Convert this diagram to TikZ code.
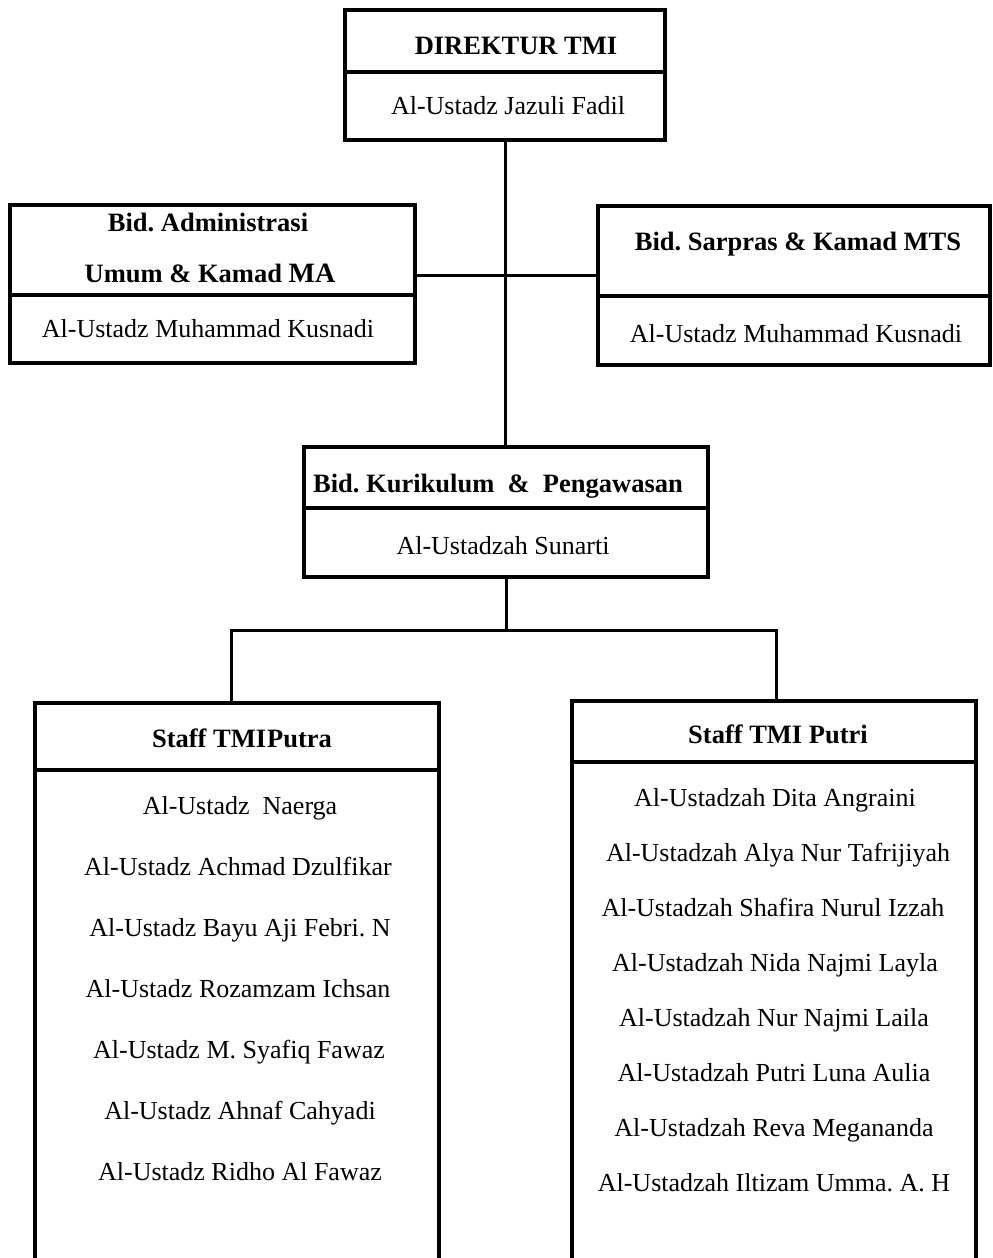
\documentclass[tikz,border=0pt]{standalone}
\usepackage{fontspec}
\setmainfont{Liberation Serif}
\begin{document}
\frenchspacing
\begin{tikzpicture}[x=1pt,y=-1pt,
  box/.style={draw=black,line width=4pt,rectangle,inner sep=0pt,outer sep=0pt},
  hdr/.style={font=\fontsize{26.5}{30}\selectfont\bfseries\frenchspacing},
  nm/.style={font=\fontsize{26}{30}\selectfont\frenchspacing},
  txt/.style={inner sep=0pt,anchor=base},
  conn/.style={line width=3pt}]
\useasboundingbox (0,0) rectangle (993,1258);
% Direktur
\node[box,minimum width=320,minimum height=62] (dirH) at (505,41) {};
\node[box,minimum width=320,minimum height=68] (dirB) at (505,106) {};
\node[txt,hdr] (dirHt) at (516,54) {DIREKTUR TMI};
\node[txt,nm] (dirBt) at (508,114) {Al-Ustadz Jazuli Fadil};
% Administrasi
\node[box,minimum width=405,minimum height=90] (admH) at (212.5,250) {};
\node[box,minimum width=405,minimum height=68] (admB) at (212.5,329) {};
\node[txt,hdr] (admHt1) at (208,231) {Bid. Administrasi};
\node[txt,hdr] (admHt2) at (210,282) {Umum \& Kamad {\fontsize{28}{30}\selectfont MA}};
\node[txt,nm] (admBt) at (208,337) {Al-Ustadz Muhammad Kusnadi};
% Sarpras
\node[box,minimum width=392,minimum height=90] (sarH) at (794,251) {};
\node[box,minimum width=392,minimum height=69] (sarB) at (794,330.5) {};
\node[txt,hdr] (sarHt) at (798,250) {Bid. Sarpras \& Kamad MTS};
\node[txt,nm] (sarBt) at (796,342) {Al-Ustadz Muhammad Kusnadi};
% Kurikulum
\node[box,minimum width=404,minimum height=61] (kurH) at (506,477.5) {};
\node[box,minimum width=404,minimum height=69] (kurB) at (506,542.5) {};
\node[txt,hdr] (kurHt) at (498,492) {Bid. Kurikulum \ \& \ Pengawasan};
\node[txt,nm] (kurBt) at (503,554) {Al-Ustadzah Sunarti};
% Staff Putra
\node[box,minimum width=404,minimum height=67] (ptaH) at (237,736.5) {};
\node[txt,hdr] (ptaHt) at (242,747) {Staff TMI\kern1pt Putra};
\coordinate (ptaBot) at (0,1265);
\draw[line width=4pt] (ptaH.south west) -- (ptaH.south west |- ptaBot);
\draw[line width=4pt] (ptaH.south east) -- (ptaH.south east |- ptaBot);
\node[txt,nm] (pa1) at (240,814) {Al-Ustadz \ Naerga};
\node[txt,nm] (pa2) at (238,875) {Al-Ustadz Achmad Dzulfikar};
\node[txt,nm] (pa3) at (240,936) {Al-Ustadz Bayu Aji Febri. N};
\node[txt,nm] (pa4) at (238,997) {Al-Ustadz Rozamzam Ichsan};
\node[txt,nm] (pa5) at (239,1058) {Al-Ustadz M. Syafiq Fawaz};
\node[txt,nm] (pa6) at (240,1119) {Al-Ustadz Ahnaf Cahyadi};
\node[txt,nm] (pa7) at (240,1180) {Al-Ustadz Ridho Al Fawaz};
% Staff Putri
\node[box,minimum width=404,minimum height=61] (ptiH) at (774,731.5) {};
\node[txt,hdr] (ptiHt) at (778,743) {Staff TMI Putri};
\draw[line width=4pt] (ptiH.south west) -- (ptiH.south west |- ptaBot);
\draw[line width=4pt] (ptiH.south east) -- (ptiH.south east |- ptaBot);
\node[txt,nm] (pi1) at (775,806) {Al-Ustadzah Dita Angraini};
\node[txt,nm] (pi2) at (778,861) {Al-Ustadzah Alya Nur Tafrijiyah};
\node[txt,nm] (pi3) at (773,916) {Al-Ustadzah Shafira Nurul Izzah};
\node[txt,nm] (pi4) at (775,971) {Al-Ustadzah Nida Najmi Layla};
\node[txt,nm] (pi5) at (774,1026) {Al-Ustadzah Nur Najmi Laila};
\node[txt,nm] (pi6) at (774,1081) {Al-Ustadzah Putri Luna Aulia};
\node[txt,nm] (pi7) at (774,1136) {Al-Ustadzah Reva Megananda};
\node[txt,nm] (pi8) at (774,1191) {Al-Ustadzah Iltizam Umma. A. H};
% connectors
\coordinate (j1) at (505,275);
\coordinate (j2) at (505,630);
\coordinate (cL) at (231,630);
\coordinate (cR) at (776,630);
\draw[conn] (dirB.south) -- (dirB.south |- kurH.north);
\draw[conn] (admH.east |- j1) -- (sarH.west |- j1);
\draw[conn] (kurB.south) -- (kurB.south |- j2);
\draw[conn] ([xshift=-1.5pt]cL) -- ([xshift=1.5pt]cR);
\draw[conn] (cL) -- (cL |- ptaH.north);
\draw[conn] (cR) -- (cR |- ptiH.north);
\end{tikzpicture}
\end{document}
